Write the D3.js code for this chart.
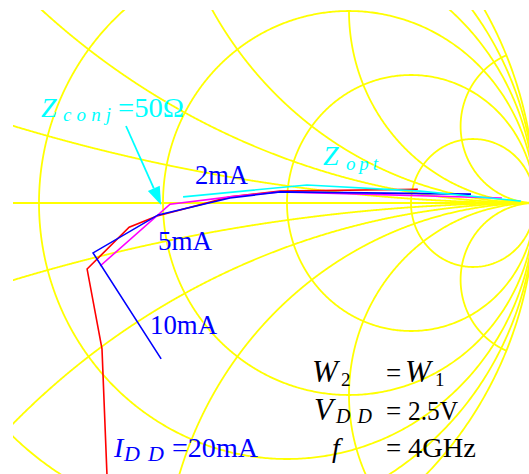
<!DOCTYPE html>
<html>
<head>
<meta charset="utf-8">
<script src="https://cdn.jsdelivr.net/npm/d3@7"></script>
<style>
  html, body { margin: 0; padding: 0; background: #ffffff; }
  svg { display: block; }
  text { font-family: "Liberation Serif", "DejaVu Serif", serif; }
</style>
</head>
<body>
<svg id="chart" width="529" height="474"></svg>
<script>
// Smith chart grid: constant-resistance circles and constant-reactance arcs
const resistanceValues = [0, 0.2, 0.5, 1, 2, 5];
const reactanceValues = [0.2, 0.5, 1, 2, 5, -0.2, -0.5, -1, -2, -5];

// Optimum source reflection coefficients [Re Γ, Im Γ] swept per drain current
const gamma20mA = [[0.685, 0.036], [0.315, 0.031], [0.180, 0.016], [-0.016, -0.034],
                   [-0.091, -0.063], [-0.204, -0.172], [-0.164, -0.380], [-0.149, -0.747]];
const gamma10mA = [[0.828, 0.023], [0.315, 0.029], [0.180, 0.013], [-0.013, -0.031],
                   [-0.188, -0.130], [-0.005, -0.406]];
const gamma5mA  = [[0.911, 0.013], [0.315, 0.029], [0.180, 0.016], [0.019, -0.003],
                   [-0.169, -0.164]];
const gamma2mA  = [[0.054, 0.016], [0.387, 0.047], [0.691, 0.031], [0.962, 0.005]];

const seriesList = [
  { name: "20mA", color: "#ff0000", points: gamma20mA },
  { name: "5mA",  color: "#ff00ff", points: gamma5mA },
  { name: "10mA", color: "#0000ff", points: gamma10mA },
  { name: "2mA",  color: "#00ffff", points: gamma2mA }
];

const W = 529, H = 474;
const svg = d3.select("#chart");

// Reflection-coefficient plane to pixels (chart centre at Γ = 0)
const x = d3.scaleLinear().domain([-1, 1]).range([163 - 372, 163 + 372]);
const y = d3.scaleLinear().domain([-1, 1]).range([203 + 384, 203 - 384]);

const line = d3.line().x(d => x(d[0])).y(d => y(d[1]));

// complex z -> Γ = (z - 1) / (z + 1)
function toGamma(r, xi) {
  const den = (r + 1) * (r + 1) + xi * xi;
  return [((r * r - 1) + xi * xi) / den, (2 * xi) / den];
}

const defs = svg.append("defs");
defs.append("clipPath").attr("id", "plotClip")
  .append("rect").attr("x", 13).attr("y", 10).attr("width", W).attr("height", H);

const grid = svg.append("g").attr("clip-path", "url(#plotClip)")
  .attr("fill", "none").attr("stroke", "#ffff00").attr("stroke-width", 1.8);

const N = 900;
// resistance circles: sweep reactance over (-inf, inf)
resistanceValues.forEach(r => {
  const pts = [[1, 0]];
  for (let i = 1; i < N; i++) {
    const u = -Math.PI / 2 + Math.PI * i / N;
    pts.push(toGamma(r, Math.tan(u)));
  }
  pts.push([1, 0]);
  grid.append("path").attr("d", line(pts));
});

// reactance arcs: sweep resistance over [0, inf)
reactanceValues.forEach(xi => {
  const pts = [];
  for (let i = 0; i < N; i++) {
    const u = (Math.PI / 2) * i / N;
    pts.push(toGamma(Math.tan(u), xi));
  }
  pts.push([1, 0]);
  grid.append("path").attr("d", line(pts));
});

// real axis
grid.append("path").attr("d", line([[-1, 0], [1, 0]]));

// measured traces
const traces = svg.append("g").attr("clip-path", "url(#plotClip)");
seriesList.forEach(s => {
  traces.append("path")
    .attr("d", line(s.points))
    .attr("fill", "none")
    .attr("stroke", s.color)
    .attr("stroke-width", 1.6)
    .attr("stroke-linejoin", "miter");
});

// arrow to the 50 Ω conjugate-match point
const arrowFrom = [126, 126], arrowTip = [x(-0.005), y(-0.005)];
const dx = arrowTip[0] - arrowFrom[0], dy = arrowTip[1] - arrowFrom[1];
const len = Math.hypot(dx, dy), ux = dx / len, uy = dy / len;
const headL = 18, headW = 6.5;
const bx = arrowTip[0] - ux * headL, by = arrowTip[1] - uy * headL;
svg.append("line")
  .attr("x1", arrowFrom[0]).attr("y1", arrowFrom[1]).attr("x2", bx).attr("y2", by)
  .attr("stroke", "#00ffff").attr("stroke-width", 1.8);
svg.append("path")
  .attr("d", `M${arrowTip[0]},${arrowTip[1]}L${bx - uy * headW},${by + ux * headW}L${bx + uy * headW},${by - ux * headW}Z`)
  .attr("fill", "#00ffff");

// text helper
function txt(px, py, s, opt = {}) {
  const t = svg.append("text")
    .attr("x", px).attr("y", py)
    .attr("font-size", opt.size || 27)
    .attr("fill", opt.color || "#000")
    .attr("font-style", opt.italic ? "italic" : "normal")
    .text(s);
  if (opt.len) t.attr("textLength", opt.len).attr("lengthAdjust", opt.adjust || "spacing");
  return t;
}

const cyan = "#00ffff", blue = "#0000ff", black = "#000000";

// Z_conj = 50Ω
txt(41, 117, "Z", { color: cyan, italic: true, size: 28 });
txt(63, 121, "conj", { color: cyan, italic: true, size: 19, len: 48 });
txt(118, 117, "=50Ω", { color: cyan, len: 66, adjust: "spacingAndGlyphs" });

// Z_opt
txt(323, 165, "Z", { color: cyan, italic: true, size: 28 });
txt(346, 170, "opt", { color: cyan, italic: true, size: 19, len: 32 });

// bias-current labels
txt(195, 184, "2mA", { color: blue, len: 53, adjust: "spacingAndGlyphs" });
txt(158, 250, "5mA", { color: blue, len: 54, adjust: "spacingAndGlyphs" });
txt(150, 334, "10mA", { color: blue, len: 67, adjust: "spacingAndGlyphs" });
txt(114, 457, "I", { color: blue, italic: true, size: 28 });
txt(124, 461, "D D", { color: blue, italic: true, size: 22, len: 40 });
txt(172, 457, "=20mA", { color: blue, len: 86, adjust: "spacingAndGlyphs" });

// operating conditions
txt(312, 382, "W", { color: black, italic: true, size: 31 });
txt(341, 386, "2", { color: black, size: 19 });
txt(386, 382, "=", { color: black, size: 27 });
txt(405, 382, "W", { color: black, italic: true, size: 31 });
txt(435, 386, "1", { color: black, size: 19 });

txt(314, 420, "V", { color: black, italic: true, size: 31 });
txt(336, 423, "D D", { color: black, italic: true, size: 20, len: 36 });
txt(386, 420, "=", { color: black, size: 27 });
txt(408, 420, "2.5V", { color: black, len: 50, adjust: "spacingAndGlyphs" });

txt(332, 457, "f", { color: black, italic: true, size: 28 });
txt(386, 457, "=", { color: black, size: 27 });
txt(408, 457, "4GHz", { color: black, len: 68, adjust: "spacingAndGlyphs" });
</script>
</body>
</html>
